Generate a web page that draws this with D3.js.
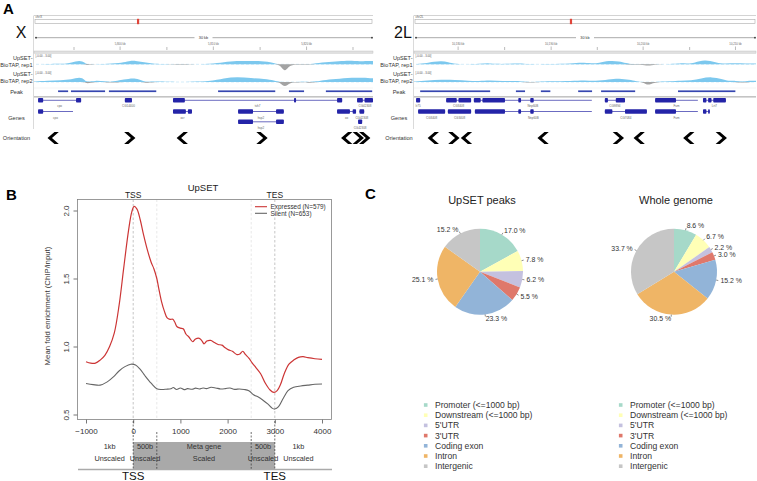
<!DOCTYPE html>
<html><head><meta charset="utf-8">
<script src="https://cdn.jsdelivr.net/npm/d3@7"></script>
<style>
body{margin:0;background:#fff}
svg{display:block}
text{font-family:"Liberation Sans",Arial,Helvetica,sans-serif}
</style>
</head><body>
<svg id="c" width="757" height="481"></svg>
<script>
// ================= DATA =================
// Panel B: metagene profiles [position (bp), mean fold enrichment]
const expressed = [[-1000,0.888],[-900,0.878],[-800,0.878],[-700,0.9],[-600,0.935],[-500,1.0],[-400,1.1],[-300,1.3],[-200,1.58],[-100,1.85],[-30,1.99],[20,2.03],[80,2.01],[150,1.93],[220,1.82],[300,1.71],[380,1.62],[440,1.57],[500,1.5],[540,1.43],[600,1.33],[660,1.26],[720,1.21],[780,1.2],[840,1.2],[880,1.18],[930,1.145],[1000,1.135],[1060,1.13],[1120,1.09],[1180,1.07],[1260,1.035],[1320,1.055],[1400,1.06],[1460,1.04],[1500,1.02],[1560,1.04],[1640,1.045],[1720,1.03],[1800,1.015],[1880,1.01],[1950,0.99],[2020,0.975],[2100,0.965],[2200,0.94],[2260,0.945],[2320,0.965],[2380,0.94],[2450,0.915],[2520,0.88],[2600,0.845],[2700,0.8],[2800,0.73],[2900,0.68],[2980,0.662],[3050,0.675],[3120,0.72],[3200,0.8],[3300,0.87],[3400,0.9],[3500,0.92],[3600,0.925],[3700,0.918],[3850,0.91],[4000,0.905]];
const silent = [[-1000,0.728],[-850,0.72],[-700,0.716],[-550,0.74],[-420,0.777],[-300,0.82],[-175,0.852],[-50,0.87],[50,0.864],[150,0.832],[250,0.785],[380,0.73],[500,0.69],[600,0.684],[700,0.686],[800,0.69],[850,0.698],[920,0.684],[1000,0.695],[1080,0.683],[1150,0.69],[1250,0.686],[1320,0.694],[1400,0.688],[1480,0.695],[1550,0.69],[1650,0.7],[1750,0.695],[1850,0.688],[1950,0.69],[2050,0.695],[2150,0.685],[2250,0.688],[2350,0.684],[2450,0.675],[2550,0.645],[2650,0.628],[2750,0.605],[2850,0.578],[2950,0.545],[3000,0.54],[3080,0.558],[3180,0.62],[3280,0.675],[3400,0.7],[3550,0.71],[3700,0.716],[3850,0.722],[4000,0.724]];
const seriesNames = ["Expressed (N=579)","Silent (N=653)"];
const xTicksB = [-1000,0,1000,2000,3000,4000];
const yTicksB = [0.5,1.0,1.5,2.0];
const bandEdges = [-1000,0,500,2500,3000,4000];
const bandTop = ["1kb","500b","Meta gene","500b","1kb"];
const bandBottom = ["Unscaled","Unscaled","Scaled","Unscaled","Unscaled"];

// Panel C: genomic annotation
const categories = ["Promoter (<=1000 bp)","Downstream (<=1000 bp)","5'UTR","3'UTR","Coding exon","Intron","Intergenic"];
const peaksPct = [17.0,7.8,6.2,5.5,23.3,25.1,15.2];
const genomePct = [8.6,6.7,2.2,3.0,15.2,30.5,33.7];
const pieTitles = ["UpSET peaks","Whole genome"];

// Panel A: browser tracks (positions in % of window)
const peakX = [[7.1,10.3],[10.9,21.2],[22.1,36.3],[54.3,71.4],[75.2,79.9],[86.1,100]];
const peak2L = [[1.8,22.5],[29.8,32.7],[37.1,40.1],[48.0,52.3],[54.7,64.9],[77.2,94.2]];
const orientX = [[5.6,"L"],[28.3,"R"],[43.7,"L"],[67.3,"R"],[92.2,"L"],[95.7,"R"],[97.6,"R"]];
const orient2L = [[5.6,"L"],[11.7,"R"],[15.3,"L"],[37.7,"L"],[59.8,"R"],[65.8,"L"],[80.3,"L"],[89.9,"R"]];
const rep1X = [[0,0],[5,0.3],[7,0.5],[9,0.2],[11,1],[13.5,2.8],[15,1],[15.5,-0.6],[17,0],[22,0.3],[26,1],[28,2.2],[30,2.5],[32,1.5],[34,1],[36,0.2],[40,0],[44,-0.5],[46,0],[52,0.2],[56,1.5],[60,2.5],[63,2],[66,2.5],[70,1.5],[72,0],[73,-2],[74,-5],[75,-2],[76,0],[80,-0.5],[82,0.3],[86,1.5],[90,2],[93,2.5],[96,2],[100,2.2]];
const rep2X = [[0,0.3],[4,0.8],[8,1.2],[11,1.5],[13.5,3.5],[15,1.5],[15.5,-1.2],[18,1],[21,0.5],[23,-0.6],[25,1.2],[28,2.2],[30,2.5],[32,1],[33,-0.8],[35,0.5],[40,0.2],[44,0],[52,0.3],[56,2.5],[60,3.5],[64,2.5],[68,2.2],[71,1],[72.5,0],[74,-4],[75.5,0],[78,-0.5],[80,0.2],[81,-0.8],[83,0.3],[86,1.5],[90,2.2],[95,3],[100,2.5]];
const rep12L = [[0,0],[3,0.5],[6,1.8],[8,2.2],[10,1.5],[12,0.3],[16,0],[19,0.3],[22,0.8],[24,0.2],[28,0.3],[31,0.8],[33,0],[40,0.2],[46,0.5],[49,1.2],[52,0.5],[54,0.8],[57,2.5],[60,2],[62,0.8],[64,-0.3],[67,-0.3],[69,-1.2],[71,0],[75,0.2],[78,0.8],[80,0.3],[82,1],[85,3.2],[88,1.5],[90,0.3],[94,0.8],[97,0.4],[100,0.5]];
const rep22L = [[0,0.3],[4,1],[8,1.6],[12,1.4],[16,0.8],[19,0.5],[22,1.2],[26,0.6],[30,0.8],[32,0.2],[34,-0.5],[36,0.2],[40,0.5],[46,0.6],[50,1.2],[53,0.5],[57,1.8],[60,2.5],[63,1.5],[65,0.5],[67,0],[68.5,-2.5],[70,0],[75,0.4],[78,1],[81,0.8],[84,2.5],[87,3.5],[90,2],[92,0.5],[94,1],[96,-0.6],[98,1],[100,0.8]];
// genes: [row, start, end, exons, name]
const genesX = [
  [0,1.2,13.9,[[1.2,2.7],[12.4,13.9]],"cpo"],
  [0,26.8,28.9,[[26.8,28.9]],"CG14400"],
  [0,41,90.9,[[41,44.5],[76.7,77.3],[89.4,90.9]],"tsh7"],
  [0,95.3,100,[[95.3,97],[97.5,100]],"CG42308"],
  [1,1.2,11.5,[[1.2,2.7]],"cpo"],
  [1,41,46.6,[[41,44.8],[45.4,46.6]],"ocr"],
  [1,60.2,73.7,[[60.2,64.6],[71.4,73.7]],"hsp2"],
  [1,89.4,95,[[89.4,93.2],[94,95]],"ox"],
  [1,96,97.4,[[96,97.4]],"CG42308"],
  [2,60.2,73.7,[[60.2,64.6],[71.4,73.7]],"hsp2"],
  [2,95.6,96.8,[[95.6,96.8]],"CG42308"]
];
const genes2L = [
  [0,0.6,1.8,[[0.6,1.8]],"Ir75"],
  [0,9.4,16.7,[[9.4,12.5],[13,16.7]],"CG3408"],
  [0,17.5,52,[[17.5,19.5],[20,26.6],[30.5,31.3],[34,35]],"Nnp60B"],
  [0,55.8,61.7,[[55.8,56.7],[59,61.7]],"CG9894"],
  [0,70.5,83,[[70.5,76.6]],"Fum"],
  [0,84.5,91.2,[[84.5,85.5],[86,87],[87.5,91.2]],"Lrt7"],
  [1,1.2,9.1,[[1.2,9.1]],"CG3408"],
  [1,9.9,16.7,[[9.9,16.7]],"CG3408"],
  [1,17.8,52,[[17.8,26.6],[30.5,31.3],[34,35]],"Nnp60B"],
  [1,55.8,68.1,[[55.8,58],[61.7,68.1]],"CG7084"],
  [1,70.5,83,[[70.5,76.6]],"Fum"],
  [1,84.5,86.5,[[84.5,85.5],[86,86.5]],""]
];
const rulerX = {major:[25.4,52.9,80.4], minor:[11.8,39.2,66.7,94.1], labels:["5,800 kb","5,810 kb","5,820 kb"]};
const ruler2L = {major:[12.9,40.1,67,94], minor:[26.5,53.6,80.6], labels:["10,180 kb","10,190 kb","10,200 kb","10,210 kb"]};

// ================= DRAW =================
const svg = d3.select("#c");
const FONT = "Liberation Sans, Arial, sans-serif";

// panel letters
[["A",3,14],["B",6,200],["C",365,199]].forEach(([t,x,y])=>{
  svg.append("text").attr("x",x).attr("y",y).attr("font-size",15).attr("font-weight","bold").text(t);
});

// ---------- Panel A ----------
function browser(cfg){
  const sx = d3.scaleLinear().domain([0,100]).range([cfg.x0,cfg.x1]);
  const g = svg.append("g");
  const x0=cfg.x0, x1=cfg.x1;
  g.append("line").attr("x1",x0).attr("x2",x1).attr("y1",15.5).attr("y2",15.5).attr("stroke","#c8c8c8").attr("stroke-width",0.8);
  g.append("line").attr("x1",x0-0.5).attr("x2",x0-0.5).attr("y1",15.5).attr("y2",129).attr("stroke","#d0d0d0").attr("stroke-width",0.8);
  g.append("text").attr("x",x0+1.5).attr("y",18.3).attr("font-size",3.2).attr("fill","#555").text(cfg.chrom);
  g.append("rect").attr("x",x0+1).attr("y",19.5).attr("width",x1-x0-2).attr("height",4).attr("fill","#fff").attr("stroke","#aaa").attr("stroke-width",0.6);
  g.append("rect").attr("x",sx(cfg.marker)-1.1).attr("y",18.8).attr("width",2.2).attr("height",5.4).attr("fill","#e0453a");
  // ruler
  g.append("line").attr("x1",x0+2).attr("x2",x1-1).attr("y1",37.7).attr("y2",37.7).attr("stroke","#555").attr("stroke-width",0.5);
  [x0+2,x1-1].forEach(x=>g.append("circle").attr("cx",x).attr("cy",37.7).attr("r",0.9).attr("fill","#333"));
  const mid=(x0+x1)/2;
  g.append("rect").attr("x",mid-9).attr("y",35).attr("width",18).attr("height",5).attr("fill","#fff");
  g.append("text").attr("x",mid).attr("y",39).attr("text-anchor","middle").attr("font-size",3.8).attr("fill","#333").text("30 kb");
  cfg.ruler.minor.forEach(p=>g.append("line").attr("x1",sx(p)).attr("x2",sx(p)).attr("y1",47).attr("y2",50).attr("stroke","#777").attr("stroke-width",0.5));
  cfg.ruler.major.forEach((p,i)=>{
    g.append("line").attr("x1",sx(p)).attr("x2",sx(p)).attr("y1",46.5).attr("y2",50).attr("stroke","#777").attr("stroke-width",0.5);
    g.append("text").attr("x",sx(p)).attr("y",44.5).attr("text-anchor","middle").attr("font-size",2.8).attr("fill","#666").text(cfg.ruler.labels[i]);
  });
  g.append("rect").attr("x",x0).attr("y",51).attr("width",x1-x0).attr("height",2.2).attr("fill","#e0e0e0").attr("stroke","#bbb").attr("stroke-width",0.4);
  // signal tracks
  const scale=1.5;
  [[cfg.sig1,64.3,56.5],[cfg.sig2,82,73.5]].forEach(([d,base,ly])=>{
    g.append("text").attr("x",x0+1.5).attr("y",ly).attr("font-size",2.8).attr("fill","#555").text("[-0.00 - 3.00]");
    g.append("line").attr("x1",x0+2).attr("x2",x1).attr("y1",base).attr("y2",base).attr("stroke","#a9d8f2").attr("stroke-width",0.5).attr("stroke-dasharray","3,2");
    g.append("path").datum(d).attr("fill","#7cc8ee")
      .attr("d",d3.area().x(p=>sx(p[0])).y0(base).y1(p=>base-Math.max(0,p[1])*scale).curve(d3.curveBasis));
    g.append("path").datum(d).attr("fill","#a3a3a3")
      .attr("d",d3.area().x(p=>sx(p[0])).y0(base).y1(p=>base-Math.min(0,p[1])*scale).curve(d3.curveBasis));
  });
  // track labels
  const lab=(t,x,y,a)=>g.append("text").attr("x",x).attr("y",y).attr("text-anchor",a).attr("font-size",5.6).attr("fill","#333").text(t);
  lab("UpSET-",x0-1.5,59.5,"end"); lab("BioTAP, rep1",x0-1.5,66.5,"end");
  lab("UpSET-",x0-1.5,76,"end"); lab("BioTAP, rep2",x0-1.5,83,"end");
  lab("Peak",cfg.lc,94,"middle"); lab("Genes",cfg.lc,120,"middle"); lab("Orientation",cfg.lc,140,"middle");
  g.append("text").attr("x",cfg.bigX).attr("y",38).attr("text-anchor","middle").attr("font-size",16).attr("fill","#111").text(cfg.big);
  // peaks
  g.append("line").attr("x1",x0).attr("x2",x1).attr("y1",88).attr("y2",88).attr("stroke","#eee").attr("stroke-width",0.6);
  g.selectAll(".pk").data(cfg.peaks).enter().append("rect")
    .attr("x",d=>sx(d[0])).attr("width",d=>sx(d[1])-sx(d[0])-0.8).attr("y",90.4).attr("height",1.7).attr("fill","#3646b0");
  g.append("rect").attr("x",x0).attr("y",96).attr("width",x1-x0).attr("height",1.6).attr("fill","#c4c4c4");
  // genes
  const rowY=[100.3,111.5,121.8];
  cfg.genes.forEach(([r,s,e,ex,name])=>{
    const y=rowY[r];
    g.append("line").attr("x1",sx(s)).attr("x2",sx(e)).attr("y1",y).attr("y2",y).attr("stroke","#2b2ba6").attr("stroke-width",0.7);
    ex.forEach(([a,b])=>g.append("rect").attr("x",sx(a)).attr("width",Math.max(0.8,sx(b)-sx(a))).attr("y",y-2.3).attr("height",4.6).attr("rx",0.8).attr("fill","#2424a8"));
    if(name) g.append("text").attr("x",sx((s+e)/2)).attr("y",y+7).attr("text-anchor","middle").attr("font-size",3).attr("fill","#666").text(name);
  });
  // orientation chevrons
  cfg.orient.forEach(([p,dir])=>{
    const k = dir==="L"?1:-1;
    const pts=[[-5.5,0],[1.5,-6],[5.8,-6],[-1,0],[5.8,6],[1.5,6]].map(([a,b])=>[sx(p)+k*a,138+b]);
    g.append("path").attr("d","M"+pts.map(q=>q.join(",")).join("L")+"Z").attr("fill","#000");
  });
}
browser({x0:34,x1:373,chrom:"chrX",marker:30.7,big:"X",bigX:21,lc:16.5,ruler:rulerX,sig1:rep1X,sig2:rep2X,peaks:peakX,genes:genesX,orient:orientX});
browser({x0:414,x1:756,chrom:"chr2L",marker:45.9,big:"2L",bigX:403,lc:399,ruler:ruler2L,sig1:rep12L,sig2:rep22L,peaks:peak2L,genes:genes2L,orient:orient2L});

// ---------- Panel B ----------
const xB = d3.scaleLinear().domain([-1000,4000]).range([86,322]);
const yB = d3.scaleLinear().domain([0.5,2.0]).range([414.5,210.5]);
const gB = svg.append("g");
const boxT=199.5, boxB=419.5, boxL=77.5, boxR=331.5;
// guide lines
[[0,"#b8b8b8"],[3000,"#b8b8b8"],[500,"#e2e2e2"],[2500,"#e2e2e2"]].forEach(([v,c])=>{
  gB.append("line").attr("x1",xB(v)).attr("x2",xB(v)).attr("y1",boxT).attr("y2",boxB).attr("stroke",c).attr("stroke-width",0.8).attr("stroke-dasharray","2.5,2");
});
const line = d3.line().x(d=>xB(d[0])).y(d=>yB(d[1])).curve(d3.curveCatmullRom.alpha(0.5));
gB.append("path").datum(silent).attr("d",line).attr("fill","none").attr("stroke","#666").attr("stroke-width",1.1);
gB.append("path").datum(expressed).attr("d",line).attr("fill","none").attr("stroke","#cc3535").attr("stroke-width",1.2);
gB.append("rect").attr("x",boxL).attr("y",boxT).attr("width",boxR-boxL).attr("height",boxB-boxT).attr("fill","none").attr("stroke","#808080").attr("stroke-width",0.8);
// axes
const ax = gB.append("g").attr("transform",`translate(0,${boxB})`)
  .call(d3.axisBottom(xB).tickValues(xTicksB).tickSize(4).tickPadding(5).tickFormat(d=>d<0?"\u2212"+Math.abs(d):d));
ax.select(".domain").remove();
ax.selectAll("line").attr("stroke","#777");
ax.selectAll("text").attr("font-size",8).attr("fill","#333").attr("font-family",FONT);
const ay = gB.append("g").attr("transform",`translate(${boxL},0)`)
  .call(d3.axisLeft(yB).tickValues(yTicksB).tickSize(4).tickFormat(d3.format(".1f")));
ay.select(".domain").remove();
ay.selectAll("line").attr("stroke","#777");
ay.selectAll("text").attr("font-size",8).attr("fill","#333").attr("font-family",FONT)
  .attr("x",null).attr("dy",null).attr("text-anchor","middle").attr("transform","translate(-8.5,0) rotate(-90)");
gB.append("text").attr("transform","translate(49.5,306) rotate(-90)").attr("text-anchor","middle").attr("font-size",7.8).attr("fill","#333").text("Mean fold enrichment (ChIP/input)");
gB.append("text").attr("x",203).attr("y",191).attr("text-anchor","middle").attr("font-size",9.5).attr("fill","#222").text("UpSET");
gB.append("text").attr("x",xB(0)).attr("y",197.5).attr("text-anchor","middle").attr("font-size",8.5).attr("fill","#222").text("TSS");
gB.append("text").attr("x",xB(3000)).attr("y",197.5).attr("text-anchor","middle").attr("font-size",8.5).attr("fill","#222").text("TES");
// legend
[["#cc3535",206.7],["#666",213.3]].forEach(([c,y],i)=>{
  gB.append("line").attr("x1",255).attr("x2",267).attr("y1",y).attr("y2",y).attr("stroke",c).attr("stroke-width",1.1);
  gB.append("text").attr("x",270.5).attr("y",y+2.2).attr("font-size",6.4).attr("fill","#333").text(seriesNames[i]);
});
// metagene schematic
gB.append("rect").attr("x",xB(0)).attr("y",442).attr("width",xB(3000)-xB(0)).attr("height",27).attr("fill","#a9a9a9");
[0,500,2500,3000].forEach(v=>{
  gB.append("line").attr("x1",xB(v)).attr("x2",xB(v)).attr("y1",(v===0||v===3000)?421:432).attr("y2",469).attr("stroke","#333").attr("stroke-width",0.7).attr("stroke-dasharray","2,1.5");
});
gB.append("line").attr("x1",78).attr("x2",332).attr("y1",469.5).attr("y2",469.5).attr("stroke","#aaa").attr("stroke-width",1.6);
for(let i=0;i<bandTop.length;i++){
  const cx=(xB(bandEdges[i])+xB(bandEdges[i+1]))/2;
  gB.append("text").attr("x",cx).attr("y",449).attr("text-anchor","middle").attr("font-size",7.3).attr("fill","#333").text(bandTop[i]);
  gB.append("text").attr("x",cx).attr("y",461).attr("text-anchor","middle").attr("font-size",7.3).attr("fill","#333").text(bandBottom[i]);
}
gB.append("text").attr("x",xB(0)).attr("y",479.5).attr("text-anchor","middle").attr("font-size",11.5).attr("fill","#111").text("TSS");
gB.append("text").attr("x",xB(3000)).attr("y",479.5).attr("text-anchor","middle").attr("font-size",11.5).attr("fill","#111").text("TES");

// ---------- Panel C ----------
const pieColors = d3.scaleOrdinal().domain(categories).range(["#a6d9c9","#ffffb6","#c4c1df","#df786b","#92b4d8","#efb566","#c6c6c6"]);
const pieGen = d3.pie().sort(null);
const arc = d3.arc().innerRadius(0);
[[peaksPct,480,271.7],[genomePct,674,271.7]].forEach(([vals,cx,cy],k)=>{
  const r=43;
  const g=svg.append("g").attr("transform",`translate(${cx},${cy})`);
  const arcs=pieGen(vals);
  g.selectAll("path").data(arcs).enter().append("path")
    .attr("d",d=>arc.outerRadius(r)(d)).attr("fill",(d,i)=>pieColors(categories[i]));
  arcs.forEach(d=>{
    const a=(d.startAngle+d.endAngle)/2, sn=Math.sin(a), cs=-Math.cos(a);
    g.append("line").attr("x1",r*sn).attr("y1",r*cs).attr("x2",r*1.05*sn).attr("y2",r*1.05*cs).attr("stroke","#444").attr("stroke-width",0.6);
    g.append("text").attr("x",r*1.1*sn).attr("y",r*1.1*cs+2.3).attr("text-anchor",sn>0?"start":"end")
      .attr("font-size",6.9).attr("fill","#333").text(d.data.toFixed(1)+" %");
  });
  svg.append("text").attr("x",cx+2).attr("y",203.5).attr("text-anchor","middle").attr("font-size",11).attr("fill","#222").text(pieTitles[k]);
  // legend
  const lx=[425.7,620.7][k];
  categories.forEach((c,i)=>{
    const y=405+i*10.2;
    svg.append("rect").attr("x",lx-1.8).attr("y",y-1.8).attr("width",3.6).attr("height",3.6).attr("fill",pieColors(c));
    svg.append("text").attr("x",lx+9.3).attr("y",y+3).attr("font-size",8.6).attr("fill","#333").text(c);
  });
});
</script>
</body></html>
